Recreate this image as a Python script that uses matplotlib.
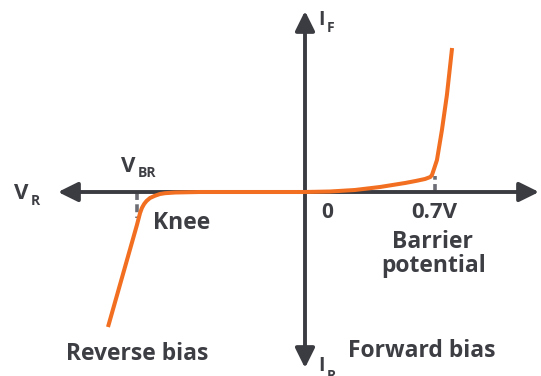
import matplotlib
matplotlib.use("Agg")
import matplotlib.pyplot as plt

# Diode I-V characteristic (schematic units: volts on x, arbitrary current units on y)
forward_v = [0.0, 0.136, 0.271, 0.407, 0.543, 0.60, 0.651, 0.680, 0.689, 0.700, 0.716, 0.743, 0.770, 0.798]
forward_i = [0.0, 0.05, 0.2, 0.5, 0.9, 1.1, 1.3, 1.5, 1.7, 2.3, 3.2, 6.2, 9.7, 14.4]
reverse_v = [0.0, -0.570, -0.705, -0.760, -0.787, -0.815, -0.841, -0.860, -0.873, -0.885, -0.895, -0.912, -1.069]
reverse_i = [0.0, 0.0, -0.05, -0.12, -0.2, -0.38, -0.6, -0.9, -1.2, -1.6, -2.1, -3.3, -13.5]
barrier_v = 0.703
breakdown_v = -0.913

AXIS = "#3b3c42"
TEXT = "#3d3e44"
ORANGE = "#f26f21"
DASH = "#6d6e75"

XS = 184.3   # px per volt
YS = 10.0    # px per current unit
fig = plt.figure(figsize=(5.41, 3.76), dpi=100)
ax = fig.add_axes([0, 0, 1, 1])
ax.set_xlim(-305 / XS, (541 - 305) / XS)
ax.set_ylim(-(376 - 192) / YS, 192 / YS)
ax.axis("off")

fam = ["Open Sans", "DejaVu Sans"]

def px(xp, yp):
    return ((xp - 305) / XS, (192 - yp) / YS)

# axes arrows
ap = dict(arrowstyle="-|>,head_length=0.85,head_width=0.42", color=AXIS, lw=2.8,
          shrinkA=0, shrinkB=0, mutation_scale=14)
ax.annotate("", xy=px(58, 192), xytext=(0, 0), arrowprops=ap)
ax.annotate("", xy=px(539, 192), xytext=(0, 0), arrowprops=ap)
ax.annotate("", xy=px(305, 11), xytext=(0, 0), arrowprops=ap)
ax.annotate("", xy=px(305, 368), xytext=(0, 0), arrowprops=ap)

# dashed markers
ax.plot([barrier_v, barrier_v], [0, 1.6], color=DASH, lw=2.6, ls=(0, (2.2, 1.2)), zorder=1)
ax.plot([breakdown_v, breakdown_v], [0, -2.6], color=DASH, lw=2.6, ls=(0, (2.2, 1.2)), zorder=1)

# curve
ax.plot(forward_v, forward_i, color=ORANGE, lw=2.9, solid_capstyle="butt", zorder=3)
ax.plot(reverse_v, reverse_i, color=ORANGE, lw=2.9, solid_capstyle="butt", zorder=3)

def T(xp, yp, s, size=16, ha="left"):
    x, y = px(xp, yp)
    ax.text(x, y, s, fontsize=size, color=TEXT, fontweight="bold", family=fam,
            ha=ha, va="baseline")

T(14, 199, "V", 16)
T(31, 205, "R", 10)
T(121, 172, "V", 16)
T(138, 177, "BR", 10)
T(318, 25, "I", 14)
T(327, 32, "F", 10)
T(318, 371, "I", 14)
T(327, 380, "R", 10)
T(153, 229, "Knee", 16.5)
T(327, 218, "0", 15, ha="center")
T(434, 218, "0.7V", 16, ha="center")
T(432.5, 248, "Barrier", 16.5, ha="center")
T(434, 272, "potential", 16.5, ha="center")
T(137, 360, "Reverse bias", 16.5, ha="center")
T(421.5, 357, "Forward bias", 16.5, ha="center")

fig.savefig("out.png", dpi=100)
